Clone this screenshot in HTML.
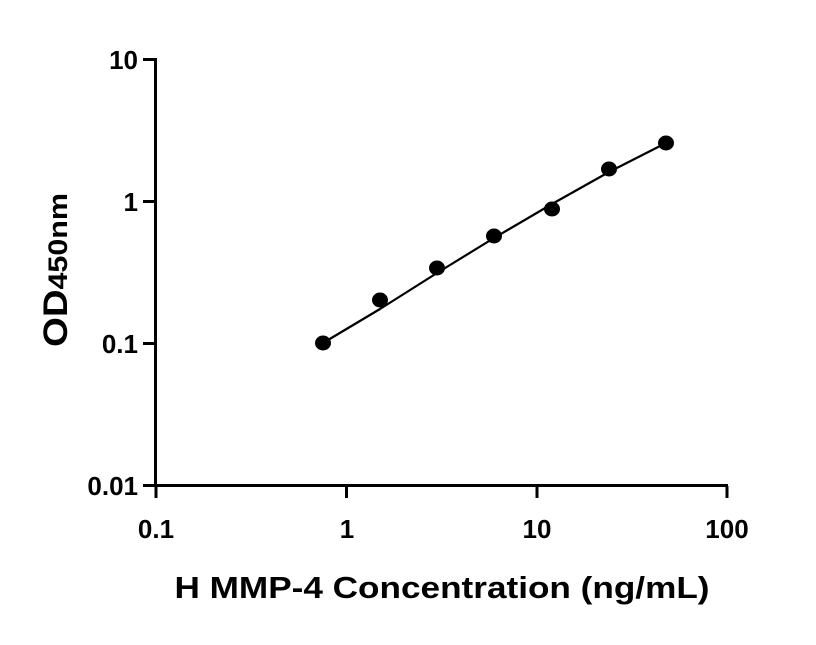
<!DOCTYPE html>
<html><head><meta charset="utf-8"><style>html,body{margin:0;padding:0;background:#fff}</style></head>
<body>
<svg width="816" height="640" viewBox="0 0 816 640" xmlns="http://www.w3.org/2000/svg" font-family="Liberation Sans, sans-serif" font-weight="bold">
<g stroke="#000" stroke-width="3" fill="none">
<line x1="155.5" y1="58" x2="155.5" y2="486"/>
<line x1="154" y1="485.5" x2="728" y2="485.5"/>
<line x1="143" y1="59.5" x2="155" y2="59.5"/>
<line x1="143" y1="201.5" x2="155" y2="201.5"/>
<line x1="143" y1="343.5" x2="155" y2="343.5"/>
<line x1="143" y1="485.5" x2="155" y2="485.5"/>
<line x1="156" y1="486" x2="156" y2="498"/>
<line x1="346.5" y1="486" x2="346.5" y2="498"/>
<line x1="537" y1="486" x2="537" y2="498"/>
<line x1="727" y1="486" x2="727" y2="498"/>
</g>
<path d="M323,343 L380,309 L437,273 L494,238 L552,204 L609,172 L666,143" stroke="#000" stroke-width="2.2" fill="none" stroke-linejoin="round"/>
<g fill="#000">
<ellipse cx="323" cy="343" rx="8" ry="7.5"/>
<ellipse cx="380" cy="300" rx="8" ry="7.5"/>
<ellipse cx="437" cy="268" rx="8" ry="7.5"/>
<ellipse cx="494" cy="236" rx="8" ry="7.5"/>
<ellipse cx="552" cy="209" rx="8" ry="7.5"/>
<ellipse cx="609" cy="169" rx="8" ry="7.5"/>
<ellipse cx="666" cy="143" rx="8" ry="7.5"/>
</g>
<g font-size="26" text-anchor="end">
<text x="138" y="69">10</text>
<text x="138" y="211">1</text>
<text x="138" y="353">0.1</text>
<text x="138" y="495">0.01</text>
</g>
<g font-size="26" text-anchor="middle">
<text x="156" y="538">0.1</text>
<text x="347" y="538">1</text>
<text x="537" y="538">10</text>
<text x="727" y="538">100</text>
</g>
<text x="442" y="598" font-size="31" text-anchor="middle" textLength="535" lengthAdjust="spacingAndGlyphs">H MMP-4 Concentration (ng/mL)</text>
<text transform="translate(67,347) rotate(-90)" font-size="34" textLength="154" lengthAdjust="spacingAndGlyphs">OD<tspan font-size="27">450nm</tspan></text>
</svg>
</body></html>
